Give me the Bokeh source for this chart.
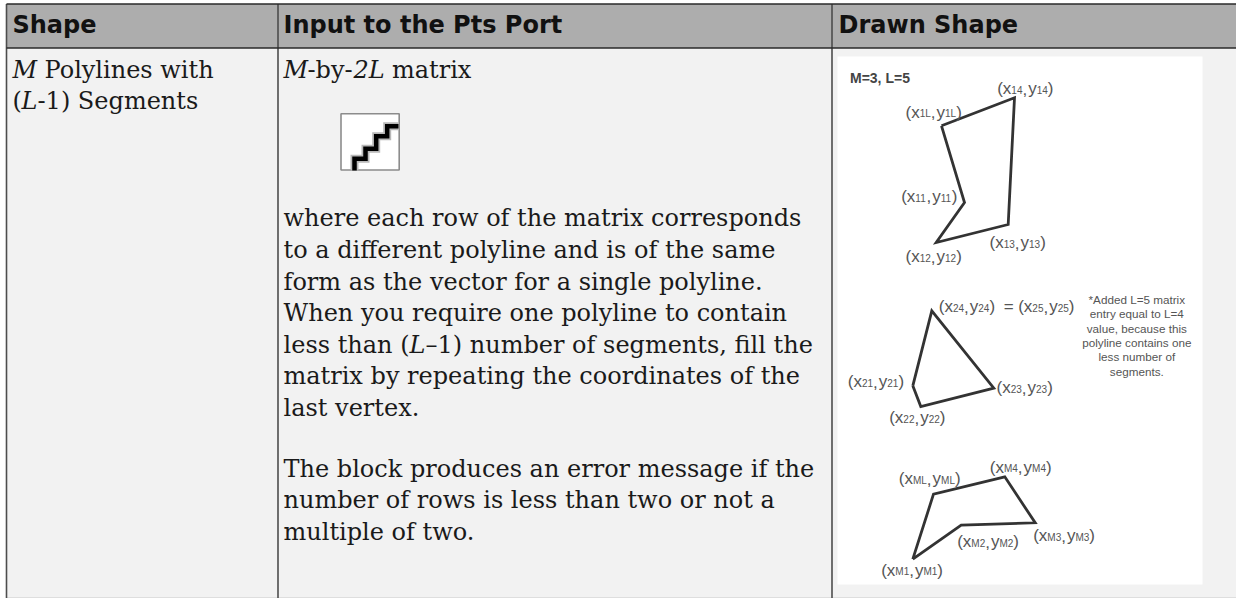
from bokeh.plotting import figure
from bokeh.models import Range1d
from bokeh.core.properties import value
from bokeh.embed import file_html
from bokeh.resources import INLINE

# Table content
header_labels = ["Shape", "Input to the Pts Port", "Drawn Shape"]
col_edges = [6, 277.5, 831.5]
header_y = [3.5, 47.5]
table_bottom = 597

# (x, baseline y, text, italic)
body_pieces = [
    (12, 77.5, "M", True), (44, 77.5, "Polylines with", False),
    (12, 109, "(", False), (21, 109, "L", True), (37, 109, "-1) Segments", False),
    (283, 77.5, "M", True), (307, 77.5, "-by-", False), (353, 77.5, "2L", True), (391.5, 77.5, "matrix", False),
]
para_lines = [
    (283, 226, "where each row of the matrix corresponds"),
    (283, 257.5, "to a different polyline and is of the same"),
    (283, 289.5, "form as the vector for a single polyline."),
    (283, 321, "When you require one polyline to contain"),
    (283, 352.5, "less than ("),
    (283, 384, "matrix by repeating the coordinates of the"),
    (283, 415.5, "last vertex."),
    (283, 476.5, "The block produces an error message if the"),
    (283, 508, "number of rows is less than two or not a"),
    (283, 539.5, "multiple of two."),
]
extra_pieces = [(409, 352.5, "L", True), (425, 352.5, "\u20131) number of segments, fill the", False)]

# Polylines of the drawn shape (closed through the last vertex)
poly1_x = [941, 1014, 1007.7, 935.7, 964, 941]
poly1_y = [125.3, 97.3, 224, 242, 202, 125.3]
poly2_x = [912.3, 920.3, 993.3, 931.3, 912.3]
poly2_y = [385.3, 406, 387.7, 310.3, 385.3]
poly3_x = [912.3, 960.7, 1034.7, 1004.3, 933, 912.3]
poly3_y = [558.7, 524.7, 522.3, 476.3, 493.7, 558.7]

# Vertex labels: left x, baseline y, subscript
vertex_labels = [
    (996.7, 94.3, "14"), (905, 117.7, "1L"), (900.7, 201.7, "11"), (989, 248.3, "13"), (905, 262, "12"),
    (938.3, 312, "24"), (1017.7, 312, "25"), (847.3, 387.3, "21"), (996, 393.3, "23"), (888.7, 423.3, "22"),
    (989.3, 472.7, "M4"), (898.3, 484.3, "ML"), (956.7, 547, "M2"), (1032.7, 541, "M3"), (880.7, 575.7, "M1"),
]
note_lines = ["*Added L=5 matrix", "entry equal to L=4", "value, because this",
              "polyline contains one", "less number of", "segments."]
note_y = [302.7, 317, 331.7, 346, 360.5, 375]

stair_x = [354, 354, 365, 365, 375.7, 375.7, 386.7, 386.7, 398]
stair_y = [170, 158.3, 158.3, 148.3, 148.3, 135.7, 135.7, 125.7, 125.7]

W, H = 1236, 598
p = figure(width=W, height=H, output_backend="svg", toolbar_location=None,
           x_range=Range1d(0, W), y_range=Range1d(H, 0),
           min_border=0, margin=(0, 0, 0, 0), outline_line_color=None)
p.axis.visible = False
p.grid.visible = False
p.background_fill_color = "white"
p.border_fill_color = "white"

# Cell backgrounds
p.quad(left=[col_edges[0]], right=[W], top=[header_y[0]], bottom=[header_y[1]],
       fill_color="#adadad", line_color=None)
p.quad(left=[col_edges[0]], right=[W], top=[header_y[1]], bottom=[table_bottom],
       fill_color="#f2f2f2", line_color=None)
p.quad(left=[col_edges[0]], right=[W], top=[table_bottom], bottom=[H],
       fill_color="#c4c4c4", line_color=None)
# White picture ground
p.quad(left=[837], right=[1202], top=[56], bottom=[584], fill_color="white", line_color=None)

# Borders
for xc in col_edges:
    p.segment(x0=[xc], x1=[xc], y0=[header_y[0]], y1=[H], line_color="#4d4d4d", line_width=1.6)
for yc in header_y:
    p.segment(x0=[col_edges[0]], x1=[W], y0=[yc], y1=[yc], line_color="#2a2a2a", line_width=1.6)

# The page draws these texts about a third of their size below the given baseline
BASE = -0.346
def dy(size):
    return BASE * size

# Headers
hx = [12, 283, 838]
p.text(x=hx, y=[32.5, 32.5, 32.5], text=header_labels, text_font=value("DejaVu Sans"), text_font_style="bold",
       text_font_size="24px", text_color="#111111", text_baseline="alphabetic", y_offset=dy(24))

SERIF = value("DejaVu Serif")
def body(x, y, t, italic=False):
    p.text(x=[x], y=[y], text=[t], text_font=SERIF, text_font_style="italic" if italic else "normal",
           text_font_size="24px", text_color="#1a1a1a", text_baseline="alphabetic", y_offset=dy(24))

for x, y, t, it in body_pieces + extra_pieces:
    body(x, y, t, it)
for x, y, t in para_lines:
    body(x, y, t)

# Staircase icon
p.quad(left=[340.5], right=[398.7], top=[113.2], bottom=[169.5], fill_color="white", line_color="#8c8c8c", line_width=1.6)
p.line(stair_x, stair_y, line_color="#b8b8b8", line_width=8, line_join="miter")
p.line(stair_x, stair_y, line_color="#000000", line_width=4.5, line_join="miter")

# Polylines
for px, py in [(poly1_x, poly1_y), (poly2_x, poly2_y), (poly3_x, poly3_y)]:
    p.line(px, py, line_color="#333333", line_width=2.8, line_join="miter")

# Vertex labels
ARIAL = value("Liberation Sans")
ADV = {"(": .333, ")": .333, "x": .5, "y": .5, ",": .278, "M": .833, "L": .556}
def width(s, size):
    return sum(ADV.get(c, .556) for c in s) * size

def label(x, y, sub):
    big, small = 17, 10
    cur = x
    for s, sz in [("(x", big), (sub, small), (",", big), ("y", big), (sub, small), (")", big)]:
        if s == "y":
            cur += 1
        raised = 1 if sz == small else 0
        p.text(x=[cur], y=[y], text=[s], text_font=ARIAL, text_font_size=f"{sz}px",
               text_color="#555555", text_baseline="alphabetic", y_offset=dy(sz) - raised)
        cur += width(s, sz)

for x, y, sub in vertex_labels:
    label(x, y, sub)

p.text(x=[1003.3], y=[312], text=["="], text_font=ARIAL, text_font_size="17px",
       text_color="#555555", text_baseline="alphabetic", y_offset=dy(17))

p.text(x=[849.5], y=[82], text=["M=3, L=5"], text_font=ARIAL, text_font_style="bold", text_font_size="14px",
       text_color="#444444", text_baseline="alphabetic", y_offset=dy(14))

p.text(x=[1136.3] * len(note_lines), y=note_y, text=note_lines, text_font=ARIAL, text_font_size="11.7px",
       text_color="#555555", text_align="center", text_baseline="alphabetic", y_offset=dy(11.7))

open("out.html", "w").write(file_html(p, INLINE))
